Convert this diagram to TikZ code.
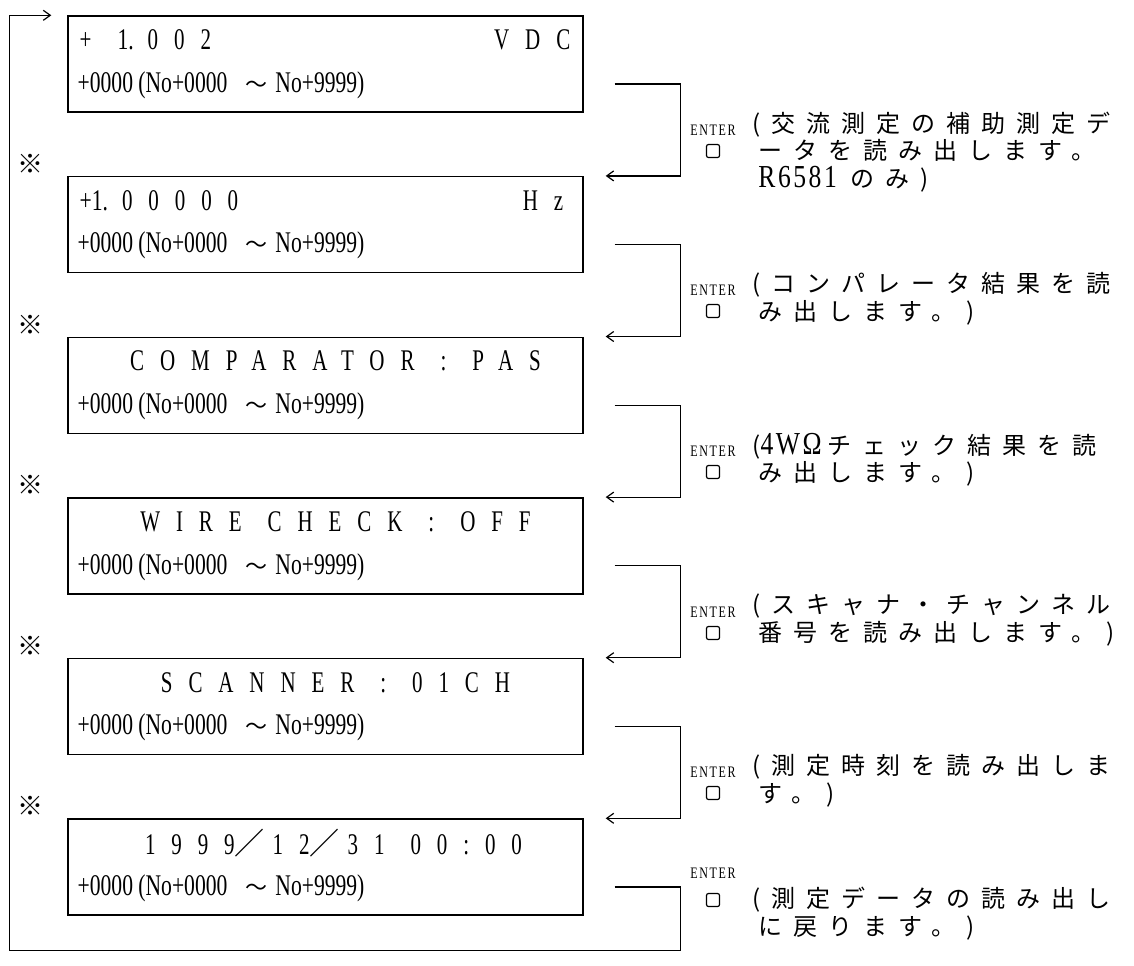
\documentclass[tikz,border=0pt]{standalone}
\usepackage{fontspec}
\usetikzlibrary{arrows.meta}
\newfontfamily\lcdfont[FakeStretch=0.72]{Liberation Serif}
\newfontfamily\lcdwide[FakeStretch=0.7,LetterSpace=53]{Liberation Serif}
\newfontfamily\latfont[FakeStretch=0.8,LetterSpace=8]{Liberation Serif}
\newfontfamily\keyfont[FakeStretch=0.75,LetterSpace=10]{Liberation Serif}
\newfontfamily\jpfont[LetterSpace=46]{Noto Sans CJK JP}
\newfontfamily\jpsym{Noto Sans CJK JP}
\newcommand{\gap}{\hspace{13pt}}
\newcommand{\rangetxt}{+0000 (No+0000\hspace{9pt}{\jpsym\fontsize{11pt}{12pt}\selectfont ～}\hspace{4pt}No+9999)}
\newcommand{\lat}[1]{{\latfont\fontsize{16pt}{13.75pt}\selectfont #1}}

\begin{document}
\begin{tikzpicture}[x=0.5pt,y=-0.5pt,
  lcdbox/.style={draw, line width=0.7pt, minimum width=257.5pt, minimum height=48pt, inner sep=0pt},
  lcdtop/.style={font=\lcdwide\fontsize{15pt}{18pt}\selectfont, inner sep=0pt},
  lcdbot/.style={font=\lcdfont\fontsize{15pt}{18pt}\selectfont, inner sep=0pt, anchor=west},
  flow/.style={line width=0.6pt, -{Straight Barb[length=3.5pt,width=5pt]}},
  keylbl/.style={font=\keyfont\fontsize{8pt}{9pt}\selectfont, inner sep=0pt},
  keysq/.style={draw, line width=0.6pt, rounded corners=1pt, minimum size=6.5pt, inner sep=0pt},
  note/.style={font=\jpfont\fontsize{12pt}{13.75pt}\selectfont, align=left, anchor=west, inner sep=0pt},
  refmark/.style={font=\jpsym\fontsize{13pt}{14pt}\selectfont, inner sep=0pt}]
\useasboundingbox (0,0) rectangle (1134,965);

% display boxes
\foreach \i in {1,...,6}
  \node[lcdbox] (d\i) at (325.5,{64+160.6*(\i-1)}) {};
\foreach \i in {1,...,6}
  \node[lcdbot] (r\i) at ([shift={(5pt,-10.5pt)}]d\i.west) {\rangetxt};

% first lines
\node[lcdtop, anchor=west] (t1) at ([shift={(6pt,12pt)}]d1.west) {+\gap{\lcdfont 1.}\hspace{7pt}002};
\node[lcdtop, anchor=east] (u1) at ([shift={(-6.5pt,12pt)}]d1.east) {VDC};
\node[lcdtop, anchor=west] (t2) at ([shift={(6pt,12pt)}]d2.west) {{\lcdfont +1.}\hspace{7pt}00000};
\node[lcdtop, anchor=east] (u2) at ([shift={(-10pt,12pt)}]d2.east) {Hz};
\node[lcdtop] (t3) at ([shift={(5pt,12pt)}]d3.center) {COMPARATOR\gap :\gap PAS};
\node[lcdtop] (t4) at ([shift={(5pt,12pt)}]d4.center) {WIRE\gap CHECK\gap :\gap OFF};
\node[lcdtop] (t5) at ([shift={(5pt,12pt)}]d5.center) {SCANNER\gap :\gap 01CH};
\node[lcdtop] (t6) at ([shift={(4pt,12pt)}]d6.center) {1999{\jpsym ／}\hspace{4pt}12{\jpsym ／}\hspace{4pt}31\gap 00:00};

% reference marks
\foreach \i in {2,...,6}
  \node[refmark] (m\i) at ([xshift=-18.5pt,yshift=6pt]d\i.north west) {※};

% ENTER brackets
\foreach \i [evaluate=\i as \j using int(\i+1)] in {1,...,5}
  \draw[flow] ([shift={(15.5pt,-10pt)}]d\i.east) -- ++(33pt,0) |- ([xshift=11pt]d\j.north east);

% return loop
\coordinate (loopbl) at ([shift={(-29pt,-17.5pt)}]d6.south west);
\coordinate (loopin) at ([xshift=-8pt]d1.north west);
\draw[flow] ([shift={(15.5pt,-10pt)}]d6.east) -- ++(33pt,0) |- (loopbl) |- (loopin);

% keys
\foreach \i/\ye/\yk in {1/130/151,2/290/311,3/451/472,4/612/633,5/772/793,6/873/900} {
  \node[keylbl] (e\i) at (713,\ye) {ENTER};
  \node[keysq] (k\i) at (713,\yk) {};
}

% notes
\node[note] (n1) at (752,152) {(交流測定の補助測定デ\\\hspace*{3pt}ータを読み出します。\\\hspace*{3pt}\lat{R6581}\hspace{7pt}のみ)};
\node[note] (n2) at (752,299) {(コンパレータ結果を読\\\hspace*{3pt}み出します。)};
\node[note] (n3) at (752,459.5) {(\lat{4WΩ}\hspace{3pt}チェック結果を読\\\hspace*{3pt}み出します。)};
\node[note] (n4) at (752,620) {(スキャナ・チャンネル\\\hspace*{3pt}番号を読み出します。)};
\node[note] (n5) at (752,780.5) {(測定時刻を読み出しま\\\hspace*{3pt}す。)};
\node[note] (n6) at (752,913.5) {(測定データの読み出し\\\hspace*{3pt}に戻ります。)};
\end{tikzpicture}
\end{document}
